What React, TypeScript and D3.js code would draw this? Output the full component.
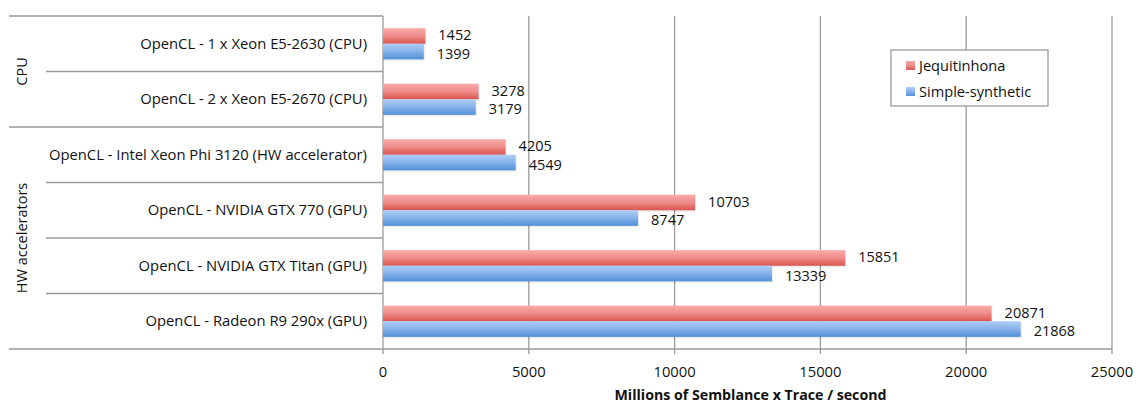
import React from 'react';
import * as d3 from 'd3';

const categories = [
  'OpenCL - 1 x Xeon E5-2630 (CPU)',
  'OpenCL - 2 x Xeon E5-2670 (CPU)',
  'OpenCL - Intel Xeon Phi 3120 (HW accelerator)',
  'OpenCL - NVIDIA GTX 770 (GPU)',
  'OpenCL - NVIDIA GTX Titan (GPU)',
  'OpenCL - Radeon R9 290x (GPU)',
];
const jequitinhona = [1452, 3278, 4205, 10703, 15851, 20871];
const simpleSynthetic = [1399, 3179, 4549, 8747, 13339, 21868];
const seriesNames = ['Jequitinhona', 'Simple-synthetic'];
const groups = [
  { name: 'CPU', from: 0, to: 1 },
  { name: 'HW accelerators', from: 2, to: 5 },
];
const xTicks = [0, 5000, 10000, 15000, 20000, 25000];

const W = 1136;
const H = 405;
const left = 383;
const right = 1112;
const top = 16;
const bottom = 349;
const font = '"Open Sans", sans-serif';
const gridColor = '#9a9a9a';

export default function App() {
  const x = d3.scaleLinear().domain([0, 25000]).range([left, right]);
  const y = d3.scaleBand<number>().domain(d3.range(categories.length)).range([top, bottom]);
  const inner = d3.scaleBand<number>().domain([0, 1]).range([0, y.bandwidth()]).paddingOuter(0.78).paddingInner(0);
  const series = [jequitinhona, simpleSynthetic];
  const fills = ['url(#gRed)', 'url(#gBlue)'];

  return (
    <svg width={W} height={H} style={{ position: 'absolute', left: 0, top: 0, fontFamily: font }}>
      <defs>
        <linearGradient id="gRed" x1="0" y1="0" x2="0" y2="1">
          <stop offset="0" stopColor="#f8aaa8" />
          <stop offset="0.5" stopColor="#ef8c8a" />
          <stop offset="1" stopColor="#d9534f" />
        </linearGradient>
        <linearGradient id="gBlue" x1="0" y1="0" x2="0" y2="1">
          <stop offset="0" stopColor="#aecdf6" />
          <stop offset="0.5" stopColor="#86b2ea" />
          <stop offset="1" stopColor="#4f8fd8" />
        </linearGradient>
      </defs>
      <rect width={W} height={H} fill="#fff" />

      {/* vertical gridlines */}
      {xTicks.slice(1).map((t) => (
        <line key={t} x1={x(t)} x2={x(t)} y1={top} y2={bottom + 5} stroke={gridColor} strokeWidth={1.3} />
      ))}
      <line x1={left} x2={left} y1={top} y2={bottom + 5} stroke={gridColor} strokeWidth={1.3} />
      <line x1={left} x2={right} y1={bottom} y2={bottom} stroke={gridColor} strokeWidth={1.3} />

      {/* category separators */}
      {d3.range(categories.length + 1).map((i) => {
        const yy = i === categories.length ? bottom : (y(i) as number);
        const isGroupEdge = groups.some((g) => g.from === i) || i === categories.length;
        return (
          <line key={i} x1={isGroupEdge ? 9 : 46} x2={left} y1={yy} y2={yy} stroke={gridColor} strokeWidth={1.3} />
        );
      })}

      {/* group labels */}
      {groups.map((g) => {
        const cy = ((y(g.from) as number) + (y(g.to) as number) + y.bandwidth()) / 2;
        return (
          <text key={g.name} transform={`translate(27,${cy}) rotate(-90)`} textAnchor="middle" fontSize={14.5} fill="#111">
            {g.name}
          </text>
        );
      })}

      {/* category labels */}
      {categories.map((c, i) => (
        <text key={c} x={367} y={(y(i) as number) + y.bandwidth() / 2} dy="0.35em" textAnchor="end" fontSize={14.8} fill="#111">
          {c}
        </text>
      ))}

      {/* bars */}
      {series.map((vals, s) =>
        vals.map((v, i) => {
          const by = (y(i) as number) + (inner(s) as number);
          return (
            <g key={`${s}-${i}`}>
              <rect x={left + 1} y={by + 1.5} width={x(v) - left} height={inner.bandwidth()} fill="#000" opacity={0.08} />
              <rect x={left} y={by} width={x(v) - left} height={inner.bandwidth()} fill={fills[s]} />
              <text x={x(v) + 13} y={by + inner.bandwidth() / 2 + (s === 0 ? -1 : 2)} dy="0.35em" fontSize={14.5} fill="#111">
                {v}
              </text>
            </g>
          );
        })
      )}

      {/* x tick labels */}
      {xTicks.map((t) => (
        <text key={t} x={x(t)} y={377} textAnchor="middle" fontSize={14.8} fill="#111">
          {t}
        </text>
      ))}
      <text x={(left + right) / 2 + 3} y={400} textAnchor="middle" fontSize={14.2} fontWeight="bold" fill="#111">
        Millions of Semblance x Trace / second
      </text>

      {/* legend */}
      <rect x={891} y={50} width={157} height={56} fill="#fff" stroke={gridColor} strokeWidth={1.3} />
      {seriesNames.map((n, s) => (
        <g key={n} transform={`translate(906,${66 + s * 26})`}>
          <rect x={0} y={-5} width={9} height={9} fill={fills[s]} />
          <text x={13} y={0} dy="0.35em" fontSize={14.6} fill="#111">
            {n}
          </text>
        </g>
      ))}
    </svg>
  );
}
